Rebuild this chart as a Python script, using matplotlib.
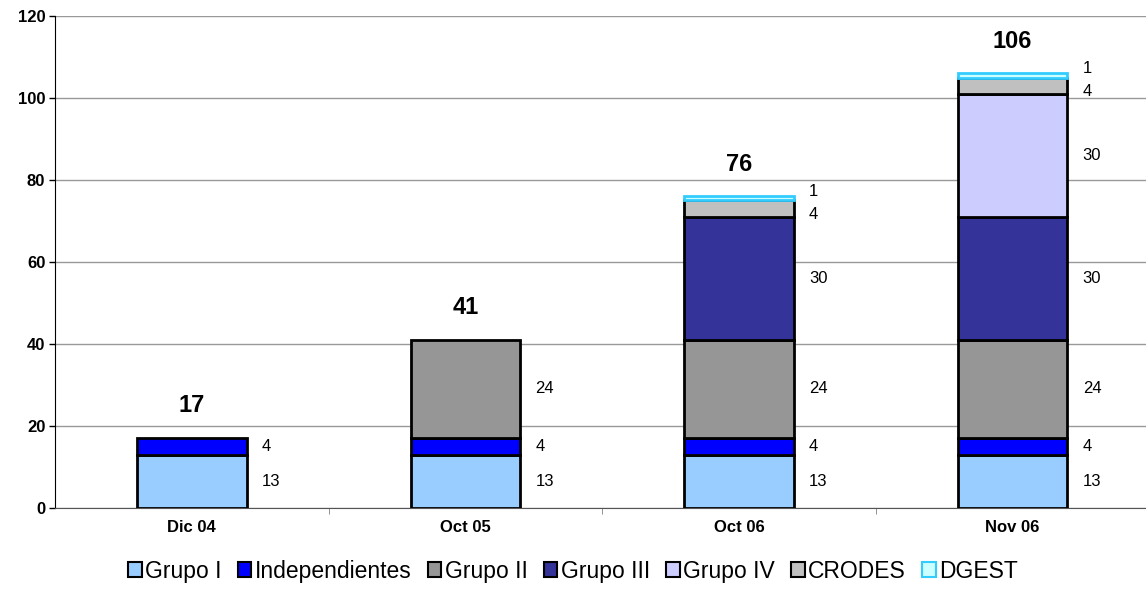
import numpy as np
import matplotlib.pyplot as plt
from matplotlib.patches import Patch

plt.rcParams['font.family'] = ['Liberation Sans', 'DejaVu Sans']

categorias = ['Dic 04', 'Oct 05', 'Oct 06', 'Nov 06']
series = ['Grupo I', 'Independientes', 'Grupo II', 'Grupo III', 'Grupo IV', 'CRODES', 'DGEST']
grupo_i = [13, 13, 13, 13]
independientes = [4, 4, 4, 4]
grupo_ii = [0, 24, 24, 24]
grupo_iii = [0, 0, 30, 30]
grupo_iv = [0, 0, 0, 30]
crodes = [0, 0, 4, 4]
dgest = [0, 0, 1, 1]
valores = [grupo_i, independientes, grupo_ii, grupo_iii, grupo_iv, crodes, dgest]
colores = ['#99CCFF', '#0000FF', '#969696', '#333399', '#CCCCFF', '#C0C0C0', '#CCFFFF']
bordes = ['black'] * 6 + ['#33CCFF']
# desplazamiento vertical (pt) de las etiquetas pequeñas
nudge = [0, 0, 0, 0, 0, -4, 5]

fig = plt.figure(figsize=(11.46, 5.96), dpi=100)
ax = fig.add_axes([0.048, 0.148, 0.955, 0.825])

x = np.arange(len(categorias))
w = 0.4
base = np.zeros(len(categorias))
for s, vals, c, ec, dy in zip(series, valores, colores, bordes, nudge):
    vals = np.array(vals, dtype=float)
    for i in range(len(categorias)):
        if vals[i] == 0:
            continue
        ax.bar(x[i], vals[i], w, bottom=base[i], color=c, edgecolor=ec, linewidth=2, zorder=3)
        ax.annotate(str(int(vals[i])), (x[i] + w / 2, base[i] + vals[i] / 2),
                    xytext=(11, dy), textcoords='offset points', ha='left', va='center',
                    fontsize=12, zorder=4)
    base += vals

for i, t in enumerate(base):
    ax.annotate(str(int(t)), (x[i], t), xytext=(0, 15), textcoords='offset points',
                ha='center', va='bottom', fontsize=17, fontweight='bold')

ax.set_xlim(-0.5, 3.5)
ax.set_ylim(0, 120)
ax.set_yticks(range(0, 121, 20))
ax.set_yticklabels([str(v) for v in range(0, 121, 20)], fontsize=12, fontweight='bold')
ax.set_xticks(x)
ax.set_xticklabels(categorias, fontsize=12, fontweight='bold')
ax.tick_params(axis='x', length=0, pad=9)
ax.set_xticks(np.arange(0.5, 3.5, 1), minor=True)
ax.tick_params(axis='x', which='minor', length=4, color='gray')
ax.tick_params(axis='y', length=4, width=1, pad=3)
ax.grid(axis='y', color='#999999', linewidth=1, zorder=0)
for sp in ['top', 'right']:
    ax.spines[sp].set_visible(False)
ax.spines['left'].set_color('black')
ax.spines['bottom'].set_color('#555555')

handles = [Patch(facecolor=c, edgecolor=ec, linewidth=1.5) for c, ec in zip(colores, bordes)]
fig.legend(handles, series, loc='lower center', bbox_to_anchor=(0.5, -0.012), ncol=7, frameon=False,
           fontsize=16.5, handlelength=0.6, handleheight=0.6, handletextpad=0.15, columnspacing=0.7)

fig.savefig('out.png', dpi=100)
